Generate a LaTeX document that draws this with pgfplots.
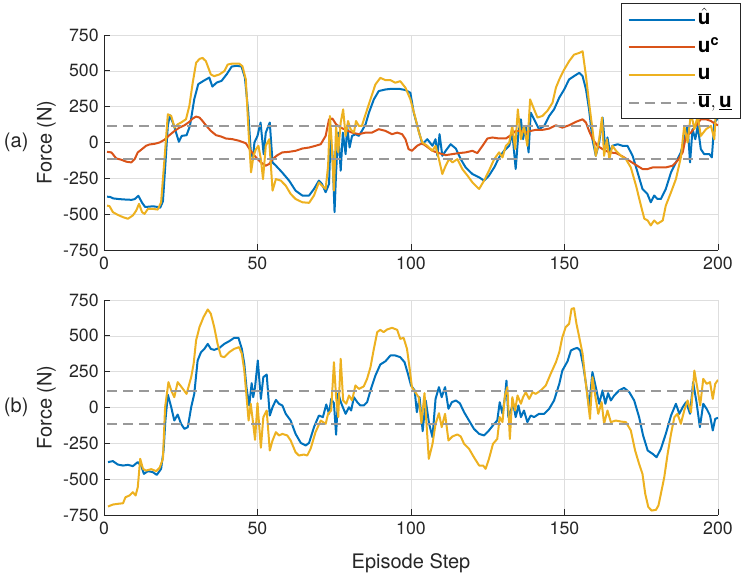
\documentclass[border=0pt]{standalone}
\usepackage{pgfplots}
\pgfplotsset{compat=1.18}
\usepackage{fontspec}
\setmainfont{TeX Gyre Heros}
\definecolor{mblue}{rgb}{0,0.447,0.741}
\definecolor{morange}{rgb}{0.85,0.325,0.098}
\definecolor{myellow}{rgb}{0.929,0.694,0.125}
\definecolor{mgray}{rgb}{0.6,0.6,0.6}
\definecolor{maxis}{rgb}{0.15,0.15,0.15}
\pgfplotsset{
  mstyle/.style={
    width=460.5pt, height=161.25pt, scale only axis,
    xmin=0, xmax=200, ymin=-750, ymax=750,
    xtick={0,50,100,150,200},
    ytick={-750,-500,-250,0,250,500,750},
    axis x line*=bottom, axis y line*=left,
    axis line style={maxis, line width=0.6pt},
    tick style={maxis, line width=0.6pt},
    tick align=inside, major tick length=4.5pt,
    grid=major, major grid style={black!13, line width=0.5pt},
    /pgf/number format/assume math mode=true,
    /pgf/number format/1000 sep={},
    tick label style={font=\fontsize{13.3}{15}\selectfont, text=maxis},
    ylabel={Force (N)},
    ylabel style={at={(rel axis cs:-0.0937,0.5)}, anchor=center, font=\fontsize{15}{17}\selectfont, text=maxis},
    yticklabel style={xshift=-0.5pt},
    xticklabel style={yshift=-1.5pt},
    clip mode=individual,
  },
  dashb/.style={mgray, line width=1.5pt, dash pattern=on 7.5pt off 4.5pt},
  dline/.style={line width=1.5pt, line join=round},
}
\begin{document}
\begin{tikzpicture}
%================ (a) =================
\begin{axis}[mstyle, at={(0,0)}, anchor=south west,
  legend style={at={(1.037,1.147)}, anchor=north east, draw=maxis, line width=0.6pt, fill=white,
     font=\fontsize{15.5}{17}\selectfont, row sep=3.7pt, inner xsep=5pt, inner ysep=3.5pt,
     nodes={inner sep=1.5pt, text height=10.5pt, text depth=3.5pt}},
  legend cell align=left,
  legend image code/.code={\draw[#1] (0cm,0cm) -- (1.75cm,0cm);},
]
\addplot[dline, mblue] coordinates {
(1,-378) (2,-380) (3,-390) (5,-395) (7,-398) (9,-400) (10,-395) (11.2,-372) (12.4,-420) (13.4,-450) (14.4,-448) (16,-445) (17.5,-450) (18.3,-455) (19.2,-410) (20,-150) (20.8,120) (21.5,190) (22.8,116) (24.4,5) (25.3,46) (26.9,51) (28,116) (29.4,302) (30.7,407) (32.4,430) (34.3,453) (35.3,390) (36.7,418) (38.3,430) (40,477) (41.6,530) (43.2,535) (44.8,530) (45.9,453) (47,209) (47.8,-60) (48.5,-110) (49,0) (50,46) (51,139) (52,-81) (52.7,69) (54,139) (54.9,-139) (56,-162) (58,-208) (60.3,-266) (62.4,-336) (64.6,-370) (66.8,-370) (68.4,-324) (70,-266) (71,-289) (72.2,-347) (73.3,-289) (73.8,23) (74.4,-69) (75.1,-486) (75.6,-208) (76.3,69) (77.1,-197) (77.8,69) (78.7,-81) (79.2,116) (80,-35) (80.8,46) (82,58) (83,46) (84,81) (85.2,127) (86.3,208) (87.9,301) (89.5,359) (91.7,370) (93.8,375) (96,375) (98.2,366) (99.8,347) (100.9,208) (102.5,81) (103.7,-12) (105.3,23) (107,-23) (108,23) (108.6,-93) (109.3,58) (110.2,-93) (111.3,-58) (112.9,-12) (114.6,-42) (116.2,-116) (117.8,-174) (120,-220) (122.2,-243) (123.8,-266) (125.4,-231) (127.1,-174) (128.7,-104) (130.3,-58) (132,-23) (133,69) (134.1,-185) (135,69) (135.8,162) (136.5,23) (137.4,116) (138.3,-69) (139,208) (140.1,162) (141.7,93) (143.4,116) (145,185) (146.6,231) (148.3,313) (149.9,370) (151.5,440) (153.1,463) (154.8,486) (155.9,463) (157,370) (158,231) (159.1,23) (160.2,-93) (161.3,0) (162.4,174) (163.3,-46) (164,35) (164.8,-69) (165.6,-23) (167.3,-12) (168.9,-23) (170.5,-23) (172.2,-93) (173.8,-208) (175.4,-324) (177,-359) (178.1,-417) (179.2,-370) (180.3,-394) (181.4,-394) (183,-324) (184.7,-208) (186.3,-139) (187.9,-69) (189,23) (190.1,116) (190.9,-139) (191.7,93) (192.6,23) (193.4,116) (194.4,-46) (195.5,-81) (197.2,-81) (198,-104) (198.8,139) (200,170)
};
\addlegendentry{$\hat{\mathbf{u}}$}
\addplot[dline, morange] coordinates {
(1,-65) (2.4,-69) (4,-111) (5.6,-120) (7.3,-134) (8.9,-139) (10,-116) (11,-69) (12.1,-51) (13.7,-23) (14.8,-14) (16.5,-9) (18.1,0) (19.7,19) (21.3,51) (23,81) (24.6,104) (26.2,120) (27.8,144) (28.9,167) (30,181) (31.1,174) (32.1,150) (33.2,120) (34.8,81) (36.5,51) (38.1,42) (39.7,28) (41.9,23) (44,12) (46.2,-5) (47.8,-58) (49.5,-104) (51.1,-139) (52.7,-162) (53.8,-150) (54.9,-116) (56.5,-88) (58.1,-69) (60.3,-65) (62.4,-58) (64.6,-42) (66.8,-35) (68.9,-23) (70.6,-12) (72.2,46) (73.3,162) (74.4,167) (75.6,127) (77.1,104) (78.7,88) (80.8,69) (83,58) (85.2,69) (87.3,69) (89.5,93) (91.7,81) (93.8,58) (95.5,69) (97.1,58) (98.2,23) (99.2,-46) (100.3,-58) (102,-23) (103.6,-5) (104.8,-23) (107,-58) (109.1,-74) (111.3,-88) (113.5,-81) (115.6,-74) (117.8,-69) (120,-58) (121.6,-74) (123.3,-23) (124.9,28) (126.5,35) (128.7,28) (130.9,28) (132.5,51) (134.1,81) (135.8,81) (137.4,69) (139,81) (140.6,88) (142.8,88) (145,97) (147.2,120) (149.3,104) (151.5,120) (153.7,144) (155.9,162) (157,139) (158,81) (159.1,28) (160.7,-23) (162.4,-46) (164.6,-69) (166.8,-74) (168.9,-97) (171.1,-127) (173.3,-157) (175.4,-185) (177.1,-185) (178.7,-174) (180.9,-174) (183,-174) (185.2,-162) (186.8,-127) (188.5,-69) (189.6,46) (191.2,69) (192.8,116) (194.4,162) (196.1,162) (197.7,150) (199.3,127) (200,120)
};
\addlegendentry{$\mathbf{u}^{\mathbf{c}}$}
\addplot[dline, myellow] coordinates {
(1,-440) (1.8,-444) (2.9,-486) (4.5,-505) (6.2,-521) (7.8,-532) (9.4,-509) (10.5,-475) (11.4,-428) (12.4,-486) (13.2,-498) (14.3,-463) (15.9,-463) (17.5,-468) (18.6,-417) (19.7,-116) (20.8,197) (21.9,185) (23,104) (24,127) (25.1,139) (26.7,162) (27.8,255) (28.9,417) (30,556) (31.1,583) (32.1,590) (33.2,567) (34.8,475) (35.9,463) (37.6,475) (39.2,498) (40.3,544) (41.9,551) (44,551) (45.1,532) (46.2,440) (47.1,69) (47.9,-208) (48.7,-93) (49.5,-46) (50.3,-23) (51.1,-116) (51.8,-255) (52.7,-23) (53.8,23) (54.9,-336) (56,-255) (57.6,-266) (59.2,-301) (60.8,-359) (62.4,-394) (64.6,-417) (66.8,-421) (68.4,-370) (70,-278) (71,-301) (72.2,-324) (73,-162) (73.6,185) (74.1,23) (74.9,-336) (75.6,116) (76.3,-69) (77.1,139) (77.9,231) (78.7,46) (79.5,150) (80.3,93) (81.4,69) (82.1,150) (83,116) (84,116) (85.2,197) (86.8,301) (88.4,405) (90,451) (91.7,435) (93.3,435) (94.9,417) (96.5,428) (98.2,382) (99.8,301) (101.4,174) (102.6,69) (103.7,0) (105.3,-23) (107,-58) (108,-23) (109.1,-116) (110.2,-220) (111.3,-162) (112.4,-116) (113.5,-139) (115.1,-116) (116.7,-185) (118.4,-231) (120,-278) (121.6,-313) (122.2,-324) (123.8,-266) (125.4,-197) (127.1,-116) (128.7,-69) (129.8,-104) (130.9,-23) (132,0) (133,116) (133.9,-46) (134.8,231) (135.8,23) (136.8,116) (137.9,-23) (138.8,301) (140.1,231) (141.2,174) (142.8,185) (144.4,220) (146.1,278) (147.2,382) (148.3,440) (149.9,509) (151.5,567) (153.1,613) (154.8,625) (155.9,637) (157,463) (158,278) (159.1,93) (160.2,-93) (161.3,23) (162.2,174) (162.9,-93) (163.8,23) (164.6,-116) (165.6,-23) (166.8,-58) (168.4,-93) (170,-116) (171.6,-174) (173.3,-301) (174.9,-440) (176,-532) (177.1,-544) (178.1,-579) (179.2,-544) (180.3,-567) (182,-544) (183,-440) (184.7,-347) (186.3,-255) (187.9,-104) (189,116) (190.1,0) (191.2,208) (192.3,93) (193.4,185) (194.4,46) (196.1,93) (197.7,116) (198.8,23) (199.3,208) (200,175)
};
\addlegendentry{$\mathbf{u}$}
\addplot[dashb] coordinates {(1,112.5) (199,112.5)};
\addlegendentry{$\overline{\mathbf{u}}, \underline{\mathbf{u}}$}
\addplot[dashb, forget plot] coordinates {(1,-112.5) (199,-112.5)};
\node[font=\fontsize{15}{17}\selectfont, text=maxis] at (rel axis cs:-0.143,0.5) {(a)};
\end{axis}
%================ (b) =================
\begin{axis}[mstyle, at={(0,-198.75pt)}, anchor=south west,
  xlabel={Episode Step},
  xlabel style={at={(rel axis cs:0.5,-0.223)}, anchor=center, font=\fontsize{15}{17}\selectfont, text=maxis},
]
\addplot[dline, mblue] coordinates {
(1.3,-381) (2.9,-374) (4.5,-398) (6.2,-405) (7.8,-400) (9.4,-409) (11,-381) (12.1,-405) (13,-463) (14.3,-444) (15.9,-451) (17.2,-470) (18.6,-428) (19.4,-300) (20,-91) (20.8,90) (21.9,2) (22.9,-91) (24,-49) (25.1,-114) (26.2,-149) (27.3,-137) (28.4,2) (29.4,95) (30.5,328) (31.6,386) (32.7,409) (33.8,444) (34.8,409) (35.9,402) (37.6,416) (39.2,444) (40.8,463) (42.4,486) (43.8,486) (44.9,409) (45.7,305) (46.4,142) (47.3,14) (48.1,170) (48.6,72) (49.2,142) (50.1,328) (51.1,60) (51.9,212) (53,230) (54,-56) (54.9,2) (56,53) (57,26) (58.1,14) (59.2,-44) (60.8,-91) (62.4,-184) (64.1,-247) (65.7,-265) (66.8,-247) (68.4,-137) (70,-56) (71.3,-67) (72.4,21) (73.3,-44) (74,60) (74.9,30) (75.6,-190) (76.3,100) (77.1,40) (77.8,2) (78.7,-44) (79.8,2) (80.5,-21) (81.4,72) (82.5,37) (83.5,14) (84.6,14) (85.7,37) (86.8,119) (88.4,223) (90,300) (91.7,323) (93.3,363) (94.9,363) (96.5,351) (97.9,316) (99,235) (100,154) (101.2,119) (101.9,-33) (102.8,72) (103.8,-165) (104.8,49) (105.9,-114) (107,-207) (108,60) (109.1,142) (110,72) (111.1,142) (112.2,-9) (113.3,37) (114.6,49) (115.9,30) (117.3,-33) (118.9,-91) (120.5,-149) (122.2,-184) (123.8,-195) (125.4,-160) (127.1,-114) (128.1,-91) (128.9,37) (129.8,-44) (130.6,72) (131.1,188) (131.7,-67) (132.5,-21) (133.3,26) (134.1,-67) (135,14) (135.8,-67) (136.8,-21) (137.9,-102) (139,-56) (140.1,-67) (141.7,-44) (143.4,-44) (145,-9) (146.6,49) (148.3,165) (149.3,258) (151,323) (152.1,398) (153.1,409) (154.2,416) (155.1,398) (156.1,293) (157,165) (158,2) (159.1,247) (160.2,142) (161.3,26) (162.4,119) (163.3,26) (164.2,100) (165.1,49) (166.2,84) (167.8,119) (169.4,137) (171.1,107) (172.7,49) (174.3,-67) (175.6,-195) (177.1,-300) (178.7,-323) (180,-347) (181.4,-288) (183,-184) (184.7,-56) (186.3,26) (187.4,-44) (188.5,2) (189.6,37) (190.9,-44) (191.9,177) (193,37) (194.1,-137) (195.2,26) (196.3,-9) (197.4,-56) (198.3,-160) (199.1,-79) (200,-72)
};
\addplot[dline, myellow] coordinates {
(1.3,-691) (2.9,-677) (4.5,-672) (6.2,-668) (7,-626) (8.3,-614) (9.4,-591) (10.3,-614) (11,-556) (11.8,-358) (12.7,-428) (13.7,-440) (15.4,-430) (17,-444) (18.1,-421) (19.2,-358) (19.9,2) (21,177) (21.9,119) (22.9,72) (24,177) (25.1,147) (26.9,95) (28.4,212) (29.2,305) (30,468) (31.1,561) (32.4,630) (33.8,684) (34.8,654) (35.9,561) (37,444) (38.1,358) (39.2,351) (40.8,386) (42.4,409) (44,421) (44.9,375) (45.7,258) (46.4,84) (47.1,-91) (47.8,26) (48.6,-114) (49.2,-226) (50,30) (51.1,-281) (51.9,-67) (53,-21) (54,-300) (54.9,-230) (56,-172) (57,-195) (58.1,-184) (59.7,-195) (60.8,-230) (62.4,-312) (63.5,-335) (65.1,-328) (66.2,-335) (67.3,-288) (68.9,-172) (70.6,-91) (72.2,-114) (73,-44) (74,-21) (74.9,316) (75.6,72) (76.3,-67) (77.1,340) (77.9,49) (78.9,26) (79.8,84) (80.8,49) (81.9,154) (83,130) (84.6,147) (85.7,200) (86.8,281) (87.9,409) (89,526) (90,542) (91.1,526) (92.2,544) (93.8,556) (95.5,542) (96.5,479) (97.6,486) (98.7,409) (99.5,281) (100.3,142) (101.4,107) (102.5,72) (103.4,-108) (104.4,100) (105.8,-358) (107,-254) (108,-114) (109.1,-40) (110,-137) (111.1,-44) (112.2,-230) (113.5,-202) (115.1,-188) (116.2,-202) (117.3,-254) (118.9,-288) (120.5,-347) (122.2,-405) (123.5,-405) (124.3,-428) (125.4,-358) (126.7,-254) (128.1,-219) (128.9,-67) (129.8,-102) (130.6,84) (131.4,142) (132.2,-219) (133,72) (133.9,-21) (134.7,84) (135.8,26) (136.5,72) (137.4,107) (138.5,60) (139.6,107) (140.6,95) (142.3,119) (143.9,154) (145.5,235) (147.2,316) (148.3,386) (149.3,491) (150.4,561) (151.5,584) (152.3,688) (153.1,693) (153.9,584) (154.8,491) (155.9,374) (156.7,212) (157.5,72) (158.3,-79) (159.1,212) (160,84) (161,-44) (162.1,37) (162.9,-114) (164,-21) (165.1,-102) (166.7,-91) (168.4,-98) (170,-102) (171.6,-160) (173,-300) (174.3,-393) (175.4,-463) (176.3,-602) (177.3,-695) (178.4,-719) (179.8,-714) (180.6,-684) (181.4,-602) (182.5,-486) (183.6,-323) (184.7,-184) (185.8,-67) (186.8,-44) (187.9,-114) (189,-21) (190.1,49) (191.2,-33) (192.3,258) (193.4,119) (194.2,14) (195.2,200) (196.3,165) (197.4,177) (198.3,60) (199.1,165) (200,193)
};
\addplot[dashb] coordinates {(1,112.5) (199,112.5)};
\addplot[dashb] coordinates {(1,-112.5) (199,-112.5)};
\node[font=\fontsize{15}{17}\selectfont, text=maxis] at (rel axis cs:-0.143,0.5) {(b)};
\end{axis}
\pgfresetboundingbox
\path (-78pt,187.5pt) rectangle (482.25pt,-249pt);
\end{tikzpicture}
\end{document}
